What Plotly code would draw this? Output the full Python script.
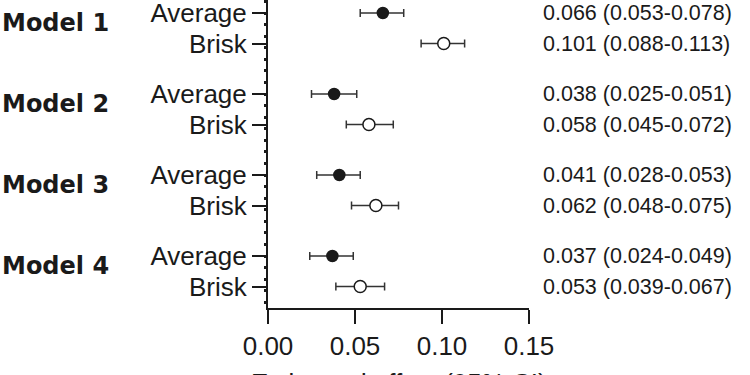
import plotly.graph_objects as go

models = ["Model 1", "Model 2", "Model 3", "Model 4"]
groups = ["Average", "Brisk"]
est_average = [0.066, 0.038, 0.041, 0.037]
low_average = [0.053, 0.025, 0.028, 0.024]
high_average = [0.078, 0.051, 0.053, 0.049]
est_brisk = [0.101, 0.058, 0.062, 0.053]
low_brisk = [0.088, 0.045, 0.048, 0.039]
high_brisk = [0.113, 0.072, 0.075, 0.067]
x_ticks = [0.00, 0.05, 0.10, 0.15]
x_title = "Estimated effect (95% CI)"

# layout constants (pixels of the plot area, y reversed)
FIRST = 13.0
ROW = 30.5
GROUP = 81.0
BOTTOM = 308.0

FONT = "Liberation Sans, Arial, sans-serif"
INK = "#1a1a1a"

def ypos(g, k):
    return FIRST + g * GROUP + k * ROW

fig = go.Figure()

series = [
    (est_average, low_average, high_average, 0, dict(color=INK, size=11, line=dict(color=INK, width=1.5))),
    (est_brisk, low_brisk, high_brisk, 1, dict(color="white", size=12, line=dict(color=INK, width=1.5))),
]
for est, lo, hi, k, mk in series:
    ys = [ypos(g, k) for g in range(len(models))]
    fig.add_trace(go.Scatter(
        x=est, y=ys, mode="markers",
        marker=dict(symbol="circle", **mk),
        error_x=dict(type="data", symmetric=False,
                     array=[h - e for h, e in zip(hi, est)],
                     arrayminus=[e - l for e, l in zip(est, lo)],
                     color="#333333", thickness=1.5, width=4),
        showlegend=False, hoverinfo="skip", cliponaxis=False,
    ))

tickvals, ticktext = [], []
for g in range(len(models)):
    for k, name in enumerate(groups):
        tickvals.append(ypos(g, k))
        ticktext.append(name)

annotations = []
for g, m in enumerate(models):
    annotations.append(dict(
        x=0, xref="paper", xshift=-268, xanchor="left",
        y=(ypos(g, 0) + ypos(g, 1)) / 2 - 5, yref="y", yanchor="middle",
        text="<b>" + m + "</b>", showarrow=False,
        font=dict(family="DejaVu Sans, sans-serif", size=24, color=INK),
    ))
    for k, (est, lo, hi) in enumerate([(est_average, low_average, high_average),
                                        (est_brisk, low_brisk, high_brisk)]):
        annotations.append(dict(
            x=1, xref="paper", xshift=12, xanchor="left",
            y=ypos(g, k), yref="y", yanchor="middle",
            text=f"{est[g]:.3f} ({lo[g]:.3f}-{hi[g]:.3f})", showarrow=False,
            font=dict(family=FONT, size=21.5, color=INK),
        ))

annotations.append(dict(
    x=0.5, xref="paper", xanchor="center",
    y=0, yref="paper", yanchor="top", yshift=-58,
    text=x_title, showarrow=False,
    font=dict(family=FONT, size=26, color=INK),
))

fig.update_layout(
    width=750, height=375,
    margin=dict(l=268, r=221, t=0, b=67, pad=0),
    paper_bgcolor="white", plot_bgcolor="white",
    font=dict(family=FONT, color=INK),
    annotations=annotations,
    xaxis=dict(
        range=[0, 0.15], tickvals=x_ticks, ticktext=[f"{v:.2f}" for v in x_ticks],
        ticks="outside", ticklen=14, tickwidth=2, tickcolor=INK,
        showline=True, linewidth=2, linecolor=INK,
        showgrid=False, zeroline=False, automargin=False,
        ticklabeloverflow="allow",
        tickfont=dict(family=FONT, size=26, color=INK),
    ),
    yaxis=dict(
        range=[BOTTOM, 0], tickvals=tickvals, ticktext=ticktext,
        ticks="outside", ticklen=14, tickwidth=2, tickcolor=INK,
        showline=True, linewidth=2, linecolor=INK,
        showgrid=False, zeroline=False, automargin=False,
        ticklabeloverflow="allow",
        tickfont=dict(family=FONT, size=26, color=INK),
        minor=dict(tickmode="linear", tick0=FIRST, dtick=GROUP / 7,
                   ticks="outside", ticklen=2, tickwidth=3, tickcolor=INK,
                   showgrid=False),
    ),
)

fig.write_html(
    "out.html",
    config={"displayModeBar": False, "staticPlot": True},
    post_script="document.body.style.margin='0';document.body.style.padding='0';document.body.style.overflow='hidden';",
)
